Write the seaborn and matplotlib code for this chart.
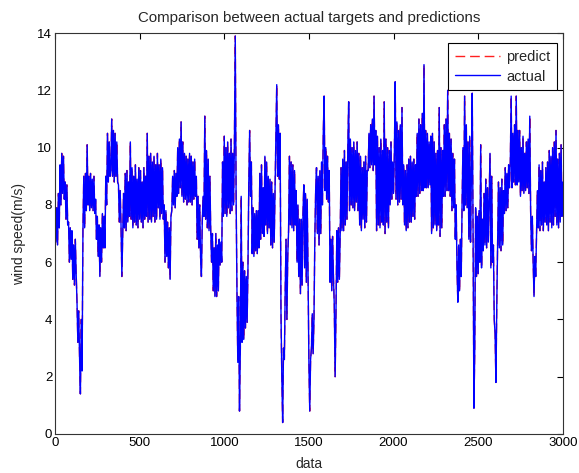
import numpy as np
import matplotlib
matplotlib.use("Agg")
import matplotlib.pyplot as plt
import seaborn as sns

# wind speed, one value every 5 samples (0..3000),
# one row per 50 samples
actual = [
    7.6, 6.7, 7.9, 6.6, 8.4, 7.2, 9.4, 8.0, 9.8, 8.4,
    9.7, 8.2, 8.8, 7.5, 8.7, 7.3, 7.4, 6.0, 7.2, 6.1,
    7.1, 5.4, 6.6, 5.2, 6.8, 5.6, 4.6, 3.2, 4.3, 2.7,
    1.4, 4.0, 2.2, 7.1, 9.0, 7.2, 9.1, 7.8, 10.1, 8.0,
    9.0, 7.8, 9.1, 7.9, 8.9, 7.8, 9.0, 7.7, 8.2, 6.8,
    7.6, 6.2, 7.3, 5.5, 7.2, 6.0, 7.7, 6.5, 7.6, 6.5,
    9.0, 8.0, 10.5, 8.8, 10.2, 9.0, 9.2, 11.0, 9.0, 10.6,
    8.8, 10.5, 9.0, 10.2, 8.8, 8.7, 7.4, 8.5, 7.3, 5.5,
    7.0, 8.4, 7.2, 9.1, 7.1, 9.2, 7.4, 8.8, 7.6, 10.2,
    7.5, 9.3, 7.2, 9.0, 7.4, 9.4, 7.3, 8.9, 7.2, 9.3,
    7.5, 9.2, 7.4, 8.8, 7.2, 9.3, 7.5, 9.0, 7.6, 10.5,
    7.4, 9.7, 7.5, 9.8, 7.4, 9.5, 7.6, 9.7, 7.4, 9.4,
    7.5, 9.8, 7.9, 9.4, 7.5, 9.6, 7.7, 9.3, 7.5, 8.0,
    6.0, 7.8, 6.2, 7.4, 5.8, 7.2, 5.4, 7.6, 7.8, 9.0,
    8.0, 9.2, 7.9, 9.1, 8.3, 10.0, 8.4, 10.3, 8.6, 10.9,
    8.3, 10.2, 8.1, 9.8, 8.2, 9.7, 8.0, 9.6, 8.1, 9.8,
    8.1, 9.7, 8.0, 9.5, 8.2, 9.6, 8.3, 9.0, 6.8, 8.3,
    6.5, 8.0, 6.2, 5.5, 7.4, 8.3, 7.6, 11.1, 7.5, 9.9,
    7.2, 9.6, 7.1, 9.0, 7.1, 6.0, 7.0, 5.0, 6.5, 4.8,
    7.0, 4.8, 6.6, 5.0, 6.8, 5.9, 6.7, 6.0, 9.5, 7.6,
    10.4, 7.7, 10.0, 7.6, 10.2, 7.9, 9.8, 7.7, 10.3, 7.8,
    9.8, 8.0, 10.2, 13.9, 8.3, 5.0, 2.5, 4.8, 0.8, 3.0,
    8.3, 3.2, 6.0, 3.3, 5.7, 3.7, 5.5, 3.9, 5.8, 8.8,
    10.6, 8.3, 9.5, 6.3, 7.9, 6.2, 7.7, 6.4, 7.8, 6.3,
    7.8, 6.5, 9.1, 6.8, 9.4, 7.0, 8.6, 6.9, 9.7, 7.3,
    9.5, 7.0, 9.0, 7.2, 8.9, 6.6, 8.8, 6.5, 8.4, 6.7,
    8.5, 10.5, 12.2, 9.0, 10.8, 8.9, 10.5, 4.3, 2.0, 0.4,
    3.0, 2.6, 5.0, 6.8, 4.0, 6.2, 7.1, 9.7, 7.3, 9.5,
    7.2, 9.4, 7.1, 9.2, 7.3, 8.5, 6.0, 8.0, 5.5, 7.5,
    4.9, 7.5, 5.2, 7.7, 8.7, 5.8, 8.4, 5.3, 8.2, 5.6,
    2.5, 0.8, 2.6, 3.0, 4.2, 2.8, 4.0, 6.8, 8.5, 9.3,
    7.0, 9.0, 6.6, 9.2, 7.0, 9.5, 8.0, 10.5, 11.8, 8.5,
    10.0, 8.2, 9.7, 8.1, 9.2, 5.3, 6.8, 5.0, 6.9, 5.5,
    4.5, 2.0, 4.2, 7.1, 5.3, 7.2, 5.4, 7.0, 9.3, 7.1,
    9.6, 7.1, 9.9, 7.3, 9.5, 7.5, 10.0, 11.6, 7.8, 10.3,
    8.0, 10.0, 7.9, 10.2, 7.8, 9.9, 8.1, 10.2, 7.8, 9.8,
    7.3, 9.7, 7.1, 9.3, 7.5, 9.5, 7.2, 9.7, 7.4, 9.2,
    9.2, 10.5, 9.3, 10.8, 9.4, 11.0, 9.2, 11.8, 9.4, 10.6,
    7.1, 10.4, 7.3, 10.0, 7.2, 10.3, 7.4, 9.9, 7.3, 11.6,
    7.0, 10.3, 7.4, 10.0, 7.2, 9.9, 8.0, 10.2, 8.2, 9.5,
    8.4, 9.8, 12.3, 8.2, 10.9, 8.0, 10.6, 8.1, 10.8, 8.2,
    11.4, 8.0, 9.4, 7.3, 9.2, 7.1, 9.4, 7.2, 9.6, 7.4,
    9.7, 7.4, 9.5, 7.6, 9.6, 7.5, 9.4, 8.3, 10.5, 8.3,
    11.0, 8.4, 10.8, 8.5, 11.2, 8.5, 12.9, 8.6, 10.6, 8.6,
    10.5, 8.6, 10.2, 8.7, 10.4, 7.0, 10.5, 7.2, 10.2, 7.3,
    9.8, 7.1, 9.9, 7.3, 11.4, 6.9, 10.0, 7.2, 9.9, 8.3,
    10.8, 8.3, 11.0, 8.5, 12.0, 8.5, 10.5, 8.3, 10.3, 7.8,
    9.8, 7.9, 9.6, 6.8, 8.0, 5.8, 4.6, 6.6, 5.0, 6.8,
    5.5, 8.0, 10.0, 7.8, 11.8, 8.0, 10.8, 7.9, 10.2, 6.8,
    10.4, 6.7, 9.0, 11.9, 7.0, 0.9, 3.0, 7.9, 5.5, 7.6,
    5.6, 7.8, 6.0, 10.1, 5.8, 7.5, 6.4, 8.4, 6.6, 8.9,
    6.5, 8.6, 6.7, 8.2, 9.8, 5.8, 9.0, 6.0, 6.6, 4.0,
    3.5, 1.8, 4.5, 6.6, 8.8, 6.5, 8.6, 6.4, 8.9, 6.6,
    8.5, 7.7, 9.3, 7.8, 9.1, 7.9, 9.4, 8.6, 9.5, 11.8,
    8.6, 10.5, 8.8, 10.8, 8.7, 11.8, 8.7, 10.6, 8.8, 10.6,
    8.3, 10.0, 8.5, 10.4, 8.4, 9.8, 8.5, 10.2, 8.6, 10.3,
    8.4, 11.1, 7.8, 6.4, 7.6, 6.0, 4.8, 6.2, 5.5, 7.0,
    8.5, 7.2, 9.4, 7.1, 9.2, 7.3, 9.5, 7.1, 8.8, 7.4,
    9.3, 7.3, 9.5, 7.1, 9.9, 7.4, 9.7, 7.2, 10.0, 7.3,
    10.2, 7.6, 10.6, 7.3, 9.6, 7.2, 9.8, 7.4, 10.1, 7.6,
    8.8,
]
# the prediction sits on top of the target almost everywhere
predict = list(actual)
samples = np.arange(0, 3001, 5)

x_ticks = [0, 500, 1000, 1500, 2000, 2500, 3000]
y_ticks = [0, 2, 4, 6, 8, 10, 12, 14]

sns.set_style("white")
plt.rcParams['font.family'] = ['Liberation Sans', 'DejaVu Sans']
plt.rcParams['xtick.direction'] = 'in'
plt.rcParams['ytick.direction'] = 'in'

fig = plt.figure(figsize=(5.79, 4.73), dpi=100)
ax = fig.add_axes([0.095, 0.0825, 0.877, 0.8475])

sns.lineplot(x=samples, y=predict, ax=ax, color='#ff2020',
             linestyle=(0, (7, 3.5)), linewidth=1.0, label='predict')
sns.lineplot(x=samples, y=actual, ax=ax, color='#0000ff', linewidth=1.0,
             label='actual')

ax.set_xlim(0, 3000)
ax.set_ylim(0, 14)
ax.set_xticks(x_ticks)
ax.set_yticks(y_ticks)
ax.tick_params(axis='both', labelsize=9.5, length=4, width=0.8,
               top=True, right=True, colors='black', pad=2)
for s in ax.spines.values():
    s.set_visible(True)
    s.set_color('#333333')
    s.set_linewidth(0.8)

ax.set_title('Comparison between actual targets and predictions', fontsize=10.8, pad=8)
ax.set_xlabel('data', fontsize=10, labelpad=6)
ax.set_ylabel('wind speed(m/s)', fontsize=10, labelpad=8)

leg = ax.legend(loc='upper right', bbox_to_anchor=(0.988, 0.975),
                borderaxespad=0, fontsize=10.5, frameon=True, fancybox=False,
                edgecolor='black', framealpha=1, handlelength=3.1,
                handletextpad=0.4, borderpad=0.45, labelspacing=0.4)
leg.get_frame().set_linewidth(0.8)

fig.savefig('out.png', dpi=100)
